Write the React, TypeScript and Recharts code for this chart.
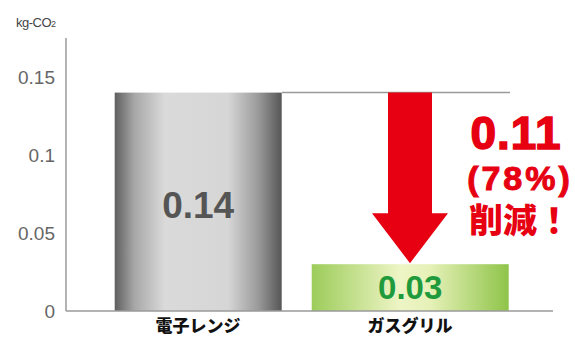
import React from "react";
import { BarChart, Bar, XAxis, YAxis, ReferenceArea, LabelList } from "recharts";

const categories = ["電子レンジ", "ガスグリル"];
const co2Values = [0.14, 0.03];
const yTicks = [0, 0.05, 0.1, 0.15];
const reductionText = ["0.11", "(78%)", "削減！"];
const unitLabel = "kg-CO";

const data = categories.map((name, i) => ({ name, value: co2Values[i] }));

const FONT = "'Noto Sans CJK JP', 'Liberation Sans', sans-serif";
const NUM_FONT = "'Liberation Sans', Arial, sans-serif";
const barWidths = [167, 197];
const gradIds = ["gradGray", "gradGreen"];
const labelColors = ["#555555", "#1f9a3c"];

const BarShape = (props: any) => {
  const { x, y, width, height, index } = props;
  const w = barWidths[index] ?? width;
  const cx = x + width / 2;
  return <rect x={cx - w / 2} y={y} width={w} height={height} fill={`url(#${gradIds[index]})`} />;
};

const ArrowShape = (props: any) => {
  const { x, y, width, height } = props;
  const cx = x + width / 2;
  const top = y;
  const tip = y + height - 1;
  const headTop = tip - 50;
  const shaft = 22;
  const head = 38;
  const tx = cx + 106;
  return (
    <g>
      <line x1={x - 22} y1={top} x2={x + width - 6} y2={top} stroke="#9a9a9a" strokeWidth={1.5} />
      <polygon
        points={`${cx - shaft},${top} ${cx + shaft},${top} ${cx + shaft},${headTop} ${cx + head},${headTop} ${cx},${tip} ${cx - head},${headTop} ${cx - shaft},${headTop}`}
        fill="#e60012"
      />
      <text x={tx} y={top + 56} textAnchor="middle" fill="#e60012" stroke="#e60012" strokeWidth={1.5} fontFamily={NUM_FONT} fontWeight={700} fontSize={46} letterSpacing={1}>
        {reductionText[0]}
      </text>
      <text x={tx + 4} y={top + 97} textAnchor="middle" fill="#e60012" stroke="#e60012" strokeWidth={1} fontFamily={NUM_FONT} fontWeight={700} fontSize={34} letterSpacing={3}>
        {reductionText[1]}
      </text>
      <text x={tx + 4} y={top + 140} textAnchor="middle" fill="#e60012" fontFamily={FONT} fontWeight={900} fontSize={34}>
        {reductionText[2]}
      </text>
    </g>
  );
};

const App: React.FC = () => {
  return (
    <div style={{ position: "absolute", left: 0, top: 0, width: 575, height: 338, background: "#fff" }}>
      <div
        style={{
          position: "absolute",
          left: 16,
          top: 15,
          fontFamily: NUM_FONT,
          fontSize: 13,
          color: "#444",
          letterSpacing: -0.5,
        }}
      >
        {unitLabel}
        <span style={{ fontSize: 9 }}>2</span>
      </div>
      <BarChart width={575} height={338} data={data} margin={{ top: 38, right: 22, bottom: 3, left: 0 }}>
        <defs>
          <linearGradient id="gradGray" x1="0" y1="0" x2="1" y2="0">
            <stop offset="0%" stopColor="#5f5f5f" />
            <stop offset="12%" stopColor="#a8a8a8" />
            <stop offset="30%" stopColor="#dadada" />
            <stop offset="68%" stopColor="#d6d6d6" />
            <stop offset="86%" stopColor="#9a9a9a" />
            <stop offset="100%" stopColor="#565656" />
          </linearGradient>
          <linearGradient id="gradGreen" x1="0" y1="0" x2="1" y2="0">
            <stop offset="0%" stopColor="#9ccc5a" />
            <stop offset="45%" stopColor="#eef5c6" />
            <stop offset="60%" stopColor="#e6f1b8" />
            <stop offset="100%" stopColor="#8fc44a" />
          </linearGradient>
        </defs>
        <XAxis
          dataKey="name"
          height={24}
          padding={{ left: 26, right: 37 }}
          axisLine={{ stroke: "#9a9a9a", strokeWidth: 1.5 }}
          tickLine={false}
          tick={{ fill: "#111", fontSize: 17, fontWeight: 900, fontFamily: FONT }}
          tickMargin={9}
          tickSize={0}
        />
        <YAxis
          width={66}
          domain={[0, 0.175]}
          ticks={yTicks}
          allowDataOverflow
          axisLine={{ stroke: "#9a9a9a", strokeWidth: 1.5 }}
          tickLine={false}
          tickSize={0}
          tickMargin={11}
          tick={{ fill: "#666", fontSize: 19, fontFamily: NUM_FONT }}
        />
        <Bar dataKey="value" shape={<BarShape />} isAnimationActive={false}>
          <LabelList
            dataKey="value"
            content={(p: any) => {
              const { x, y, width, height, index, value } = p;
              const big = index === 0;
              return (
                <text
                  x={x + width / 2}
                  y={y + height / 2 + (big ? 16 : 11)}
                  textAnchor="middle"
                  fill={labelColors[index]}
                  fontFamily={NUM_FONT}
                  fontWeight={700}
                  fontSize={big ? 37 : 33}
                >
                  {value}
                </text>
              );
            }}
          />
        </Bar>
        <ReferenceArea
          x1={categories[1]}
          x2={categories[1]}
          y1={co2Values[1]}
          y2={co2Values[0]}
          shape={<ArrowShape />}
        />
      </BarChart>
    </div>
  );
};

export default App;
